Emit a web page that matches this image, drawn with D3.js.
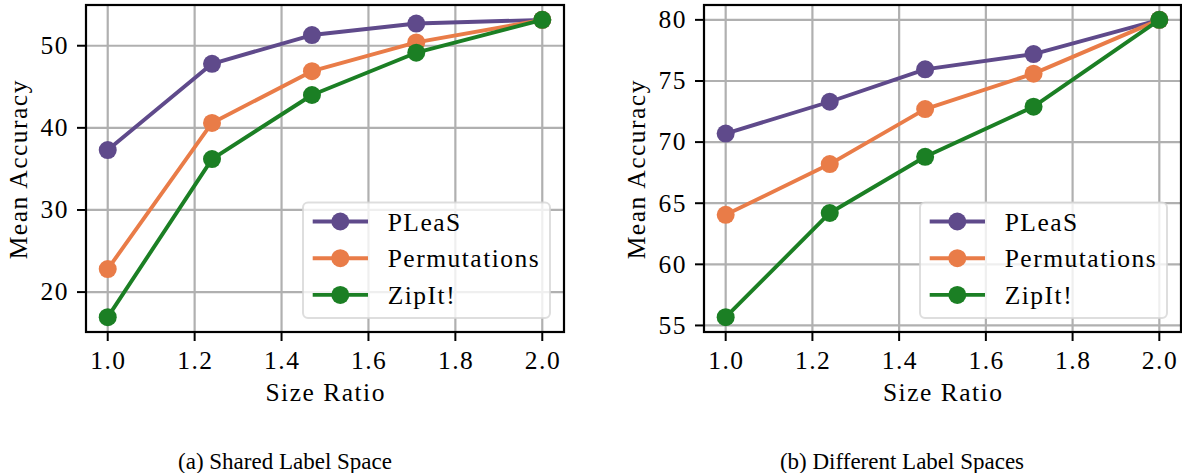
<!DOCTYPE html>
<html>
<head>
<meta charset="utf-8">
<script src="https://cdn.jsdelivr.net/npm/d3@7"></script>
<style>
  html, body { margin: 0; padding: 0; background: #fff; }
  svg { display: block; }
</style>
</head>
<body>
<svg id="chart" width="1182" height="473"></svg>
<script>
// ---- data ----
const seriesNames = ["PLeaS", "Permutations", "ZipIt!"];
const seriesColors = ["#5f4a8b", "#e97c48", "#1b7f24"];

const xSharedLabel = [1.0, 1.24, 1.47, 1.71, 2.0];
const pleasShared = [37.3, 47.8, 51.3, 52.7, 53.15];
const permShared = [22.8, 40.6, 46.9, 50.4, 53.15];
const zipitShared = [16.95, 36.2, 44.0, 49.15, 53.15];

const xDiffLabel = [1.0, 1.24, 1.46, 1.71, 2.0];
const pleasDiff = [70.7, 73.3, 75.95, 77.2, 80.0];
const permDiff = [64.05, 68.2, 72.7, 75.6, 80.0];
const zipitDiff = [55.68, 64.2, 68.8, 72.9, 80.0];

const xTicks = [1.0, 1.2, 1.4, 1.6, 1.8, 2.0];
const yTicksShared = [20, 30, 40, 50];
const yTicksDiff = [55, 60, 65, 70, 75, 80];

const xLabel = "Size Ratio";
const yLabel = "Mean Accuracy";
const captions = ["(a) Shared Label Space", "(b) Different Label Spaces"];

// ---- layout ----
const FONT = "'Liberation Serif', 'Times New Roman', serif";
const svg = d3.select("#chart");

function styledText(sel, size, spacing) {
  return sel.attr("font-family", FONT).attr("font-size", size)
    .attr("letter-spacing", spacing).attr("fill", "#000");
}

const panels = [
  { left: 86, right: 564, xs: xSharedLabel, ys: [pleasShared, permShared, zipitShared], yTicks: yTicksShared, caption: captions[0], capX: 285 },
  { left: 704, right: 1181, xs: xDiffLabel, ys: [pleasDiff, permDiff, zipitDiff], yTicks: yTicksDiff, caption: captions[1], capX: 902 }
];
const plotTop = 5, plotBottom = 332;

panels.forEach(p => {
  const g = svg.append("g");
  const x = d3.scaleLinear().domain([0.95, 2.05]).range([p.left, p.right]);
  const all = p.ys.flat();
  const mn = d3.min(all), mx = d3.max(all), pad = (mx - mn) * 0.05;
  const y = d3.scaleLinear().domain([mn - pad, mx + pad]).range([plotBottom, plotTop]);

  // grid
  g.append("g").selectAll("line").data(xTicks).join("line")
    .attr("x1", d => x(d)).attr("x2", d => x(d)).attr("y1", plotTop).attr("y2", plotBottom)
    .attr("stroke", "#b0b0b0").attr("stroke-width", 2.2);
  g.append("g").selectAll("line").data(p.yTicks).join("line")
    .attr("y1", d => y(d)).attr("y2", d => y(d)).attr("x1", p.left).attr("x2", p.right)
    .attr("stroke", "#b0b0b0").attr("stroke-width", 2.2);

  // series
  p.ys.forEach((vals, i) => {
    const pts = vals.map((v, j) => [p.xs[j], v]);
    g.append("path")
      .attr("d", d3.line().x(d => x(d[0])).y(d => y(d[1]))(pts))
      .attr("fill", "none").attr("stroke", seriesColors[i]).attr("stroke-width", 3.9)
      .attr("stroke-linejoin", "round").attr("stroke-linecap", "butt");
    g.append("g").selectAll("circle").data(pts).join("circle")
      .attr("cx", d => x(d[0])).attr("cy", d => y(d[1])).attr("r", 9)
      .attr("fill", seriesColors[i]);
  });

  // frame
  g.append("rect").attr("x", p.left).attr("y", plotTop)
    .attr("width", p.right - p.left).attr("height", plotBottom - plotTop)
    .attr("fill", "none").attr("stroke", "#000").attr("stroke-width", 2.2);

  // ticks
  const xt = g.append("g");
  xTicks.forEach(t => {
    xt.append("line").attr("x1", x(t)).attr("x2", x(t)).attr("y1", plotBottom).attr("y2", plotBottom + 9)
      .attr("stroke", "#000").attr("stroke-width", 2);
    styledText(xt.append("text"), 25.5, 1.5).attr("x", x(t) + 0.7).attr("y", 369)
      .attr("text-anchor", "middle").text(d3.format(".1f")(t));
  });
  p.yTicks.forEach(t => {
    xt.append("line").attr("x1", p.left - 9).attr("x2", p.left).attr("y1", y(t)).attr("y2", y(t))
      .attr("stroke", "#000").attr("stroke-width", 2);
    styledText(xt.append("text"), 25.5, 1.5).attr("x", p.left - 17).attr("y", y(t) + 8.3)
      .attr("text-anchor", "end").text(t);
  });

  // axis titles
  styledText(g.append("text"), 25.5, 1.5)
    .attr("x", (p.left + p.right) / 2 + 0.7).attr("y", 401).attr("text-anchor", "middle").text(xLabel);
  styledText(g.append("text"), 25.5, 1.5)
    .attr("transform", `translate(${p.left - 59},${(plotTop + plotBottom) / 2 + 0.7}) rotate(-90)`)
    .attr("text-anchor", "middle").text(yLabel);

  // legend (lower right)
  const lw = 247, lh = 115.5;
  const lx = p.right - 14 - lw, ly = plotBottom - 14 - lh;
  const lg = g.append("g");
  lg.append("rect").attr("x", lx).attr("y", ly).attr("width", lw).attr("height", lh)
    .attr("rx", 5).attr("ry", 5)
    .attr("fill", "#fff").attr("fill-opacity", 0.8)
    .attr("stroke", "#d6d6d6").attr("stroke-opacity", 0.8).attr("stroke-width", 2);
  seriesNames.forEach((name, i) => {
    const ry = ly + 19 + i * 36.7;
    lg.append("line").attr("x1", lx + 9.7).attr("x2", lx + 65).attr("y1", ry).attr("y2", ry)
      .attr("stroke", seriesColors[i]).attr("stroke-width", 3.9);
    lg.append("circle").attr("cx", lx + 37.3).attr("cy", ry).attr("r", 9).attr("fill", seriesColors[i]);
    styledText(lg.append("text"), 25.5, 1.5).attr("x", lx + 84.7).attr("y", ry + 9).text(name);
  });

  // caption
  styledText(svg.append("text"), 23, 0).attr("x", p.capX).attr("y", 469)
    .attr("text-anchor", "middle").text(p.caption);
});
</script>
</body>
</html>
